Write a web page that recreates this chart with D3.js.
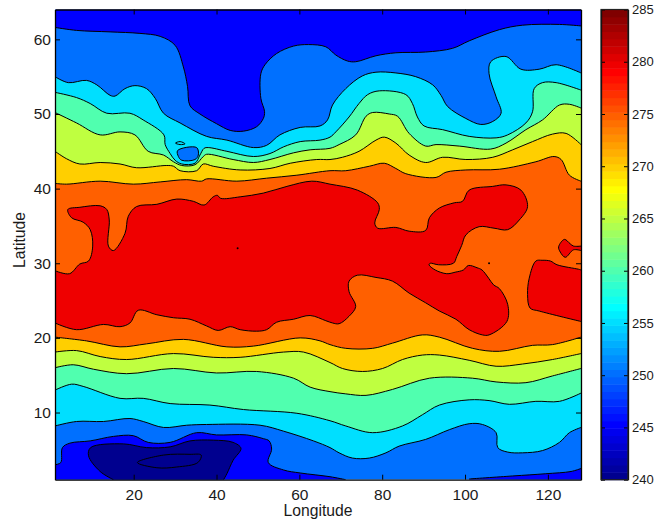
<!DOCTYPE html>
<html>
<head>
<meta charset="utf-8">
<script src="https://cdn.jsdelivr.net/npm/d3@7"></script>
<style>
  body { margin: 0; background: #fff; }
  text { font-family: "Liberation Sans", sans-serif; fill: #1a1a1a; }
</style>
</head>
<body>
<script>
// contour levels and ticks
var levels = [240, 245, 250, 255, 260, 265, 270, 275, 280, 285];
var lonTicks = [20, 40, 60, 80, 100, 120];
var latTicks = [10, 20, 30, 40, 50, 60];

// contours, [longitude, latitude]
var north245 = [[1,61.6],[6.2,61.2],[14.3,61],[21.5,60.8],[26.4,60.4],[30,59.2],[32,56.3],[33,53.7],[33.6,51.1],[36,50],[40,48.7],[43.3,47.8],[46.5,47.7],[49.7,48.3],[51.3,49.4],[51.6,50.3],[50.7,52.1],[50.7,55.4],[51.7,56.6],[54.5,58.1],[58.6,59.1],[62.2,59.3],[66.4,59],[68.8,57.9],[71.6,57.1],[73.6,57],[78.5,57.8],[83.3,58.2],[90.5,58.3],[97,58.8],[101,59.8],[108.3,61.3],[113.9,61.9],[122.8,62],[128,61.8]];
var north250 = [[1,55],[4.2,54.2],[8.6,54.5],[11.1,53.9],[14.3,52.5],[15.5,52.4],[17.9,53.4],[20.3,53.8],[23.1,53.4],[25.2,52.1],[27.2,50.1],[31.2,48.8],[37.6,47],[42.5,46.5],[48.9,45.5],[52.1,45.8],[55.3,47.2],[60.2,48.2],[65,48.4],[66.8,49.2],[68,51.2],[71.2,53.4],[75.2,55.1],[78.5,55.6],[83.3,55.5],[88.1,55],[92.2,53.9],[94.2,52.5],[95.8,51],[100.2,49.4],[103.8,48.6],[106.7,49],[108.7,50.1],[107.5,52.3],[105.8,55.4],[106.2,57],[109.9,57.7],[113.5,56],[117.9,56],[122,56.6],[128,55.5]];
var north255 = [[1,52.9],[6.2,52.2],[9.5,51.4],[13.5,50.1],[19.1,50.1],[22.3,49.2],[27.3,47.2],[27.6,45.9],[28.8,44.7],[30,43.8],[31.6,43.3],[34.8,43.4],[36,44.5],[37,45.4],[38,45.5],[42.5,45],[48.9,44.3],[52.9,44.7],[56.2,45.6],[60.2,46.3],[65,46.5],[67.4,46.9],[68.8,47.6],[72,49.6],[74.4,51.4],[76.5,52.6],[79.3,53.1],[85.7,52.6],[87.3,51.4],[88.5,49.6],[90.1,48.4],[94.6,47.9],[101,47],[107.5,46.8],[110.3,47.2],[114.7,48.8],[116.3,50.3],[116.7,53.4],[118.7,54.2],[122,54.2],[128,53.2]];
var north260 = [[1,50.2],[6.2,48.8],[11.9,47.2],[16.7,47.6],[20.3,47.2],[23.5,45],[27.2,44.5],[29.6,43.6],[31.6,43.1],[34.8,43.2],[36.8,44.3],[37.6,44.6],[44,43.9],[48.9,43.5],[52.9,43.9],[58.6,44.8],[62.6,45.2],[67.4,45.4],[69.6,45.9],[73.6,47.2],[76.1,49.7],[77.7,50.2],[81.7,50],[83.7,49.7],[86.5,47.4],[90.5,45.7],[93,45.9],[98.6,45.7],[106.2,45.3],[109.9,46.1],[114.7,47.9],[118.7,49.2],[122.8,51.2],[125.2,51.3],[128,50.8]];
var north265 = [[1,45],[3.8,44],[7,43.3],[11.9,43.5],[16.7,43.3],[20.7,42.8],[28,43.1],[29.6,43],[31.2,42.4],[35.2,42.4],[36.8,43.3],[39.2,43],[45.7,42.5],[52.9,42.7],[57.8,43.4],[64.2,43.9],[67.4,43.9],[70.4,44.2],[74.4,45],[78.5,46.5],[80.5,46.9],[83.3,46.1],[86.5,44.5],[90.5,43.5],[94.6,44.2],[100.2,43.9],[106.7,44.2],[111.5,45.2],[116.3,46.3],[121.1,47.3],[124.4,47.4],[128,45.9]];
var north270 = [[1,40.7],[3.8,40.6],[11.9,41],[19.9,40.6],[26.4,40.9],[32.8,41.2],[36.4,41],[37.6,41.3],[44.9,41],[52.1,41.4],[59.4,41.8],[67.4,42.4],[71.2,42.4],[76.9,43],[80.5,43.4],[83.3,42.7],[85.7,42],[93,41.5],[95.4,42.2],[100.2,42.5],[108.3,42.6],[117.1,43.6],[121.5,44.3],[123.2,43.9],[125.2,41.8],[128,41]];

var south270 = [[1,20.1],[8.6,19.6],[16.7,18.8],[23.1,19.2],[32,19.8],[42.5,18.8],[48.9,18.9],[60.2,20],[65,19.6],[67.4,19.1],[71.2,18.6],[77.7,18.6],[82.5,19.3],[89.7,20.4],[93.8,20.1],[101.8,18.6],[108.3,18.2],[116.3,19],[121.1,19.1],[128,20.1]];
var south265 = [[1,18.1],[6.2,18.3],[11.9,17.5],[18.3,17.1],[29.6,17.9],[39.2,17.4],[45.7,17.4],[56.2,18.1],[61,18.1],[67.4,16.7],[70.4,15.9],[75.2,15.5],[80.1,15.9],[84.9,17.1],[89.7,17.7],[93.8,17.7],[101,17],[107.5,16.2],[113.9,16.5],[121.1,17.1],[128,17.9]];
var south260 = [[1,16],[5.4,16.4],[10.3,15.8],[18.3,15.2],[29.6,15.9],[40,15.3],[49.7,15.5],[58.6,14.6],[62.6,13.4],[67.4,12.8],[71.2,12.5],[76.1,12.3],[82.5,13.1],[91.4,14.6],[101.8,14.6],[107.5,14.1],[114.7,14],[121.1,14.9],[128,15.9]];
var south255 = [[1,13],[5,13.8],[7.8,13.5],[16.7,11.9],[22.3,11.9],[28.8,11.2],[38.4,11],[46.5,10.4],[59.4,9.9],[67.4,8.9],[71.2,8.2],[77.7,7.3],[84.9,8.2],[89.7,9.7],[93.8,11],[101,11.7],[105.8,11.6],[110.7,11.1],[117.1,11.5],[122.8,11.5],[128,12.6]];
var south250 = [[1,8.2],[6.2,8.8],[12.7,8.8],[19.1,9.2],[22.3,8.8],[27.2,8],[32.8,8.3],[37.6,8.4],[50.5,8.3],[56.2,7.5],[63.4,6.2],[67.4,5.3],[69.6,4.6],[72.8,3.9],[76.9,3.9],[80.9,4.6],[84.1,5.5],[90.5,6.4],[96.2,7.7],[101,8.5],[104.2,8.4],[107.5,7.3],[107.9,5.3],[110.3,4.7],[113.9,4.6],[118.7,4.9],[122.8,6],[125.2,7.3],[128,8]];
var south245 = [[1,3],[2.4,3.3],[2.8,5.3],[4.6,5.9],[9.5,6.2],[15.1,6.8],[19.9,6.9],[23.5,6],[28.8,6],[35.2,7.3],[40,7],[47.3,7],[51.3,6.5],[52.7,6.2],[53.3,5.1],[52.5,3.3],[56.2,2.3],[60.2,1.9],[67.4,1.4],[71.2,1]];
var south245b = [[101,1.1],[111.5,1.5],[119.5,1.8],[125.6,2.1],[128,2.5]];
var south240 = [[15.1,1],[11.9,2.1],[9.1,4.2],[9.6,5.3],[17.5,5.8],[23.1,5.3],[28.8,5.4],[33.6,6.2],[39.2,6.3],[44,6],[45.9,5.2],[44,3.6],[42.5,1.8],[41.7,1]];
var inner240 = [[20.9,3.3],[27.2,4.3],[33.6,4.4],[36.3,4.3],[35.5,3.3],[30.4,2.7],[25.6,2.6]];

var warm280 = [[1,29],[4.5,28.6],[7,29.9],[9.1,30.3],[10.1,32.3],[9.5,34.5],[7.8,35.5],[5,36.1],[4.1,37.2],[7,37.5],[11.9,37.7],[13.5,37.2],[14.1,35.8],[13.9,32.3],[15.1,31.7],[17.9,34],[18.7,36.3],[20.7,37.6],[25.6,37.9],[30.4,38.6],[34.4,38.3],[37,37.8],[39.2,38.9],[40.2,39.1],[41,38.7],[45.7,38.9],[51.3,39.4],[57,40.3],[63,41],[67.4,40.6],[74,39.8],[78.9,38.1],[79.3,37.2],[78.2,35.4],[78.9,34.7],[83.3,34.8],[86.5,34.3],[90.5,34.4],[91.4,36.1],[93.8,37.4],[97.4,38.1],[99.4,38.3],[101,39.8],[106.7,40.3],[109.9,40.5],[113.5,39.8],[115.1,37.6],[113.1,35.8],[110.3,34.5],[107,34.7],[103.4,34.9],[100.2,33.8],[99.2,32.4],[98,30.9],[97.2,30],[93.6,29.8],[91.6,30],[91.3,29.8],[92.8,29.1],[95.6,28.6],[97.6,28.8],[99.6,29.1],[100.8,29.7],[102.9,29.4],[104.1,29.1],[105.7,28],[106.9,27.1],[108.3,26.6],[110.3,24.5],[110.1,22.2],[105.8,20.4],[104.2,20.4],[101,21.1],[97.8,22.5],[93.8,23.6],[90.5,24.7],[86.5,26],[82.5,27.6],[78.5,28.1],[74,28.4],[72,27.6],[72,26.2],[73.6,24.2],[72,22.9],[69.6,21.9],[68,22],[66.4,22.3],[62.6,23],[58.6,22.5],[54.5,22.1],[52.1,21.1],[49.7,20.9],[45.7,21.1],[43.3,21.5],[40.4,21],[37.6,21.6],[33.6,22.5],[29.6,22.7],[25.6,23.1],[21.1,23.7],[19.1,22],[16.7,21.5],[12.7,21.8],[6.2,21.1],[1,22]];
var warm280b = [[128,29.1],[127.4,29.2],[122.2,29.8],[120.6,30.3],[118.6,30.4],[117.1,30.3],[115.5,28],[115.1,25.8],[115.7,24],[117.9,23.6],[128,22.2]];
var warm280c = [[128,32.3],[126.2,32.3],[125.4,32.6],[124,33.2],[122.6,32.2],[123,31.5],[124.2,30.8],[126.2,31.8],[128,31.7]];
var cold250 = [[30.6,45.1],[35.2,45.5],[35.6,44.5],[34.8,43.9],[31.6,43.8],[30.8,44.3]];
var ring255 = [[30.1,46.1],[31.2,46.3],[32.4,46],[31.2,45.9]];
var specks = [[45.1,32],[105.8,30]];

var width = 656, height = 527;
var svg = d3.select("body").append("svg").attr("width", width).attr("height", height).style("display", "block");

var x = d3.scaleLinear().domain([1, 128]).range([55, 581]);
var y = d3.scaleLinear().domain([1, 64]).range([479.7, 9.5]);
var cbY = d3.scaleLinear().domain([240, 285]).range([479.7, 9.5]);

// matlab jet, 64 steps
var jet = d3.scaleLinear().domain([0, 7, 23, 39, 55, 63])
  .range(["#00008f", "#0000ff", "#00ffff", "#ffff00", "#ff0000", "#800000"]);
function levelColor(v) { return jet(Math.floor((v - 240) / 45 * 63)); }

var smooth = d3.line().x(d => x(d[0])).y(d => y(d[1])).curve(d3.curveCatmullRom.alpha(0.5));
var loop = d3.line().x(d => x(d[0])).y(d => y(d[1])).curve(d3.curveCatmullRomClosed.alpha(0.5));
function corner(p) { return "L" + x(p[0]) + "," + y(p[1]); }

svg.append("clipPath").attr("id", "plot").append("rect")
  .attr("x", x(1)).attr("y", y(64)).attr("width", x(128) - x(1)).attr("height", y(1) - y(64));

var g = svg.append("g").attr("clip-path", "url(#plot)");

g.append("rect").attr("x", x(1)).attr("y", y(64)).attr("width", x(128) - x(1)).attr("height", y(1) - y(64))
  .attr("fill", levelColor(250));

function fillPath(d, level) { g.append("path").attr("d", d).attr("fill", levelColor(level)); }
function strokePath(d) { g.append("path").attr("d", d).attr("fill", "none").attr("stroke", "#000").attr("stroke-width", 1); }

// cold cap at the top
fillPath(smooth(north245) + corner([128, 64]) + corner([1, 64]) + "Z", 245);
strokePath(smooth(north245));

// bands, outermost first
var bands = [
  [255, north250, south250],
  [260, north255, south255],
  [265, north260, south260],
  [270, north265, south265],
  [275, north270, south270]
];
// the bands are coloured by the lower edge of the interval
bands.forEach(function (b) {
  var d = smooth(b[1]) + "L" + smooth(b[2].slice().reverse()).slice(1) + "Z";
  fillPath(d, b[0]);
  strokePath(smooth(b[1]));
  strokePath(smooth(b[2]));
});

// warm core
[warm280, warm280b, warm280c].forEach(function (c) {
  fillPath(smooth(c) + "Z", 280);
  strokePath(smooth(c));
});

// small patches near lon 32
fillPath(loop(cold250), 250);
strokePath(loop(cold250));
strokePath(loop(ring255));

// cold patches at the bottom
fillPath(smooth(south245) + corner([1, 1]) + "Z", 245);
strokePath(smooth(south245));
fillPath(smooth(south245b) + corner([128, 1]) + corner([101, 1]) + "Z", 245);
strokePath(smooth(south245b));
fillPath(smooth(south240) + "Z", 240);
strokePath(smooth(south240));
strokePath(loop(inner240));

g.selectAll("circle").data(specks).enter().append("circle")
  .attr("cx", d => x(d[0])).attr("cy", d => y(d[1])).attr("r", 1).attr("fill", "#000");

// axes, matlab box style with inward ticks
function styleAxis(sel, size) {
  sel.selectAll("path.domain").attr("stroke", "#000").attr("stroke-width", 1.3);
  sel.selectAll(".tick line").attr("stroke", "#000").attr("stroke-width", 1);
  sel.selectAll("text").attr("font-size", size || 15.5).attr("fill", "#1a1a1a").style("font-family", "'Liberation Sans', sans-serif");
}

svg.append("g").attr("transform", "translate(0," + y(1) + ")")
  .call(d3.axisBottom(x).tickValues(lonTicks).tickSize(-5).tickSizeOuter(0).tickPadding(9)).call(styleAxis);
svg.append("g").attr("transform", "translate(0," + y(64) + ")")
  .call(d3.axisTop(x).tickValues(lonTicks).tickSize(-5).tickSizeOuter(0).tickFormat("")).call(styleAxis);
svg.append("g").attr("transform", "translate(" + x(1) + ",0)")
  .call(d3.axisLeft(y).tickValues(latTicks).tickSize(-5).tickSizeOuter(0).tickPadding(4)).call(styleAxis);
svg.append("g").attr("transform", "translate(" + x(128) + ",0)")
  .call(d3.axisRight(y).tickValues(latTicks).tickSize(-5).tickSizeOuter(0).tickFormat("")).call(styleAxis);

svg.append("text").attr("x", 318).attr("y", 516).attr("text-anchor", "middle").attr("font-size", 15.7).text("Longitude");
svg.append("text").attr("transform", "translate(24.5,240) rotate(-90)").attr("text-anchor", "middle").attr("font-size", 15.7).text("Latitude");

// colorbar
var cbLeft = 601, cbRight = 628;
var steps = d3.range(64);
svg.append("g").selectAll("rect").data(steps).enter().append("rect")
  .attr("x", cbLeft)
  .attr("width", cbRight - cbLeft)
  .attr("y", d => cbY(240 + (d + 1) * 45 / 64))
  .attr("height", (cbY(240) - cbY(285)) / 64 + 0.5)
  .attr("fill", d => jet(d));

svg.append("g").attr("transform", "translate(" + cbRight + ",0)")
  .call(d3.axisRight(cbY).tickValues(levels).tickSize(-4).tickSizeOuter(0).tickPadding(4).tickFormat(d3.format("d"))).call(styleAxis, 13);
svg.append("g").attr("transform", "translate(" + cbLeft + ",0)")
  .call(d3.axisLeft(cbY).tickValues(levels).tickSize(-4).tickSizeOuter(0).tickFormat("")).call(styleAxis);
svg.append("rect").attr("x", cbLeft).attr("y", cbY(285)).attr("width", cbRight - cbLeft).attr("height", cbY(240) - cbY(285))
  .attr("fill", "none").attr("stroke", "#222").attr("stroke-width", 1.2);
</script>
</body>
</html>
